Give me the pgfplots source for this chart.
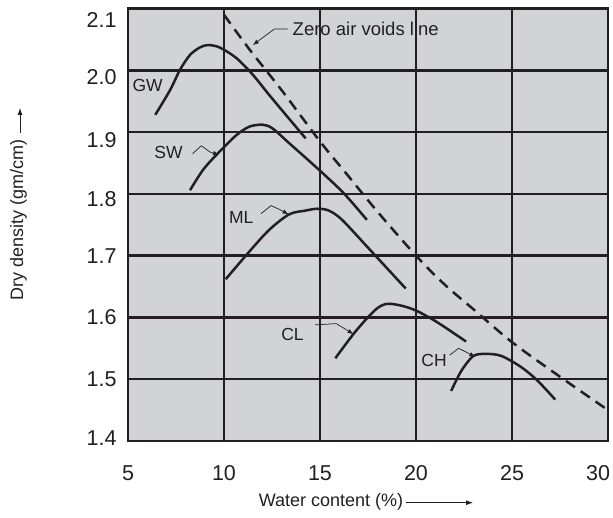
\documentclass[border=0pt]{standalone}
\usepackage{fontspec}
\setmainfont{Liberation Sans}
\usepackage{pgfplots}
\pgfplotsset{compat=1.18}
\usetikzlibrary{arrows.meta}
\definecolor{bgray}{HTML}{D1D3D4}
\definecolor{ink}{HTML}{231F20}
\tikzset{
  leader/.style={ink, line width=0.7pt, -{Latex[length=6pt,width=4.5pt]}},
  lab/.style={font=\fontsize{17.5}{17.5}\selectfont, text=ink},
}
\begin{document}
\begin{tikzpicture}
\begin{axis}[name=ax, scale only axis, width=480pt, height=432.4pt,
  xmin=5, xmax=30, ymin=1.4, ymax=2.1,
  xtick={5,10,15,20,25,30},
  ytick={1.4,1.5,1.6,1.7,1.8,1.9,2.0,2.1},
  /pgf/number format/assume math mode=true,
  yticklabel style={/pgf/number format/fixed, /pgf/number format/fixed zerofill, /pgf/number format/precision=1,
    xshift=-8pt, yshift={{3,0,0,0,-5,-8,-7,-11}[\ticknum]}},
  ticklabel style={font=\fontsize{21.5}{21.5}\selectfont, text=ink},
  xticklabel style={yshift=-21pt, xshift={{0,0,0,0,0,-10}[\ticknum]}},
  major tick length=0pt,
  grid=major, major grid style={ink, line width=2.4pt},
  axis line style={ink, line width=2.4pt},
  axis background/.style={fill=bgray},
  every axis plot/.append style={ink, line width=2.5pt, line join=round},
]
% Zero air voids line
\addplot[dash pattern=on 11pt off 7pt, smooth] coordinates {
(10,2.09) (11.3,2.035) (13,1.968) (15,1.885) (16.5,1.828) (18,1.771) (20,1.70) (21.5,1.653) (23,1.613) (25,1.56) (27.5,1.504) (30,1.45)};
% GW
\addplot[smooth] coordinates {
(6.42,1.928) (7.19,1.968) (7.71,2.001) (8.23,2.025) (8.74,2.037) (9.17,2.041) (9.78,2.037) (10.64,2.020) (11.50,1.993) (12.36,1.960) (13.22,1.928) (14.25,1.890)};
% SW
\addplot[smooth] coordinates {
(8.23,1.806) (8.91,1.839) (9.69,1.866) (10.64,1.895) (11.33,1.909) (12.02,1.912) (12.53,1.906) (13.40,1.882) (14.95,1.839) (16.24,1.801) (17.44,1.758)};
% ML
\addplot[smooth] coordinates {
(10.09,1.662) (11.33,1.707) (12.36,1.742) (13.40,1.767) (14.25,1.773) (14.86,1.776) (15.46,1.773) (16.15,1.758) (17.53,1.712) (19.46,1.647)};
% CL
\addplot[smooth] coordinates {
(15.80,1.534) (16.84,1.577) (17.87,1.612) (18.48,1.622) (19.25,1.619) (19.94,1.612) (20.63,1.601) (21.32,1.588) (22.61,1.561)};
% CH
\addplot[smooth] coordinates {
(21.83,1.481) (22.35,1.513) (22.96,1.537) (23.56,1.541) (24.42,1.538) (25.46,1.520) (26.32,1.498) (27.25,1.467)};
% annotations
\node[lab, font=\fontsize{18.5}{18.5}\selectfont, anchor=west, inner sep=0pt] at (axis cs:13.57,2.067) {Zero air voids line};
\draw[leader] (axis cs:13.31,2.067) -- (axis cs:12.62,2.067) -- (axis cs:11.50,2.041);
\node[lab] at (axis cs:6.02,1.975) {GW};
\node[lab] at (axis cs:7.11,1.867) {SW};
\draw[leader] (axis cs:8.36,1.865) -- (axis cs:8.82,1.878) -- (axis cs:9.26,1.868) -- (axis cs:9.74,1.863);
\node[lab] at (axis cs:10.90,1.762) {ML};
\draw[leader] (axis cs:11.93,1.768) -- (axis cs:12.45,1.781) -- (axis cs:12.88,1.775) -- (axis cs:13.36,1.767);
\node[lab] at (axis cs:13.57,1.573) {CL};
\draw[leader] (axis cs:14.74,1.588) -- (axis cs:15.85,1.590) -- (axis cs:16.75,1.573);
\node[lab] at (axis cs:20.94,1.531) {CH};
\draw[leader] (axis cs:21.75,1.539) -- (axis cs:22.22,1.550) -- (axis cs:22.61,1.544) -- (axis cs:23.09,1.536);
\end{axis}
% axis labels
\node[font=\fontsize{18}{18}\selectfont, text=ink] at ([shift={(203pt,-61pt)}]ax.south west) {Water content (\%)};
\draw[ink, line width=0.8pt, -{Latex[length=7pt,width=5pt]}] ([shift={(278pt,-61.7pt)}]ax.south west) -- ([shift={(345pt,-61.7pt)}]ax.south west);
\node[font=\fontsize{18}{18}\selectfont, text=ink, rotate=90] at ([shift={(-109.5pt,221pt)}]ax.south west) {Dry density (gm/cm)};
\draw[ink, line width=0.8pt, -{Latex[length=7pt,width=5pt]}] ([shift={(-108pt,308pt)}]ax.south west) -- ([shift={(-108pt,333pt)}]ax.south west);
\pgfresetboundingbox
\path[use as bounding box] ([shift={(-128pt,-77pt)}]ax.south west) rectangle ([shift={(5pt,8.6pt)}]ax.north east);
\end{tikzpicture}
\end{document}
